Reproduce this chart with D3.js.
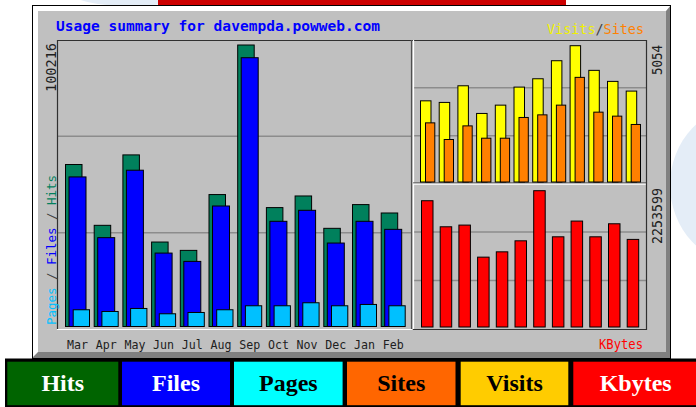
<!DOCTYPE html>
<html>
<head>
<meta charset="utf-8">
<script src="https://cdn.jsdelivr.net/npm/d3@7"></script>
<style>
html,body{margin:0;padding:0;background:#fff;overflow:hidden;}
svg{display:block;}
.mono{font-family:"DejaVu Sans Mono",monospace;}
</style>
</head>
<body>
<svg id="chart" width="696" height="407"></svg>
<script>
// ---- data ----
const months = ["Mar","Apr","May","Jun","Jul","Aug","Sep","Oct","Nov","Dec","Jan","Feb"];
const hits   = [57670, 36020, 61090, 30070, 27100, 46970, 100216, 42330, 46470, 34950, 43400, 40410];
const files  = [53250, 31630, 55640, 26140, 23180, 42900, 95690, 37450, 41370, 29710, 37450, 34590];
const pages  = [5960, 5350, 6420, 4530, 4990, 5960, 7380, 7380, 8450, 7380, 7850, 7380];
const visits = [3010, 2951, 3568, 2542, 2850, 3519, 3828, 4497, 5054, 4140, 3731, 3371];
const sites  = [2193, 1576, 2081, 1624, 1624, 2393, 2490, 2850, 3880, 2590, 2442, 2133];
const kbytes = [2087900, 1657000, 1685000, 1155000, 1242800, 1425100, 2253599, 1491300, 1751500, 1491300, 1706800, 1448300];
const legendItems = ["Hits","Files","Pages","Sites","Visits","Kbytes"];
const titleText = "Usage summary for davempda.powweb.com";

const svg = d3.select("#chart");

// background decorations
svg.append("ellipse").attr("cx",745).attr("cy",185).attr("rx",75).attr("ry",80).attr("fill","#e4edf7");
svg.append("ellipse").attr("cx",130).attr("cy",-8).attr("rx",60).attr("ry",14).attr("fill","#e4edf7");
svg.append("rect").attr("x",158).attr("y",0).attr("width",408).attr("height",5).attr("fill","#cc0000");

// outer frame with bevel
const F = {x0:32, y0:5, x1:671, y1:358};
svg.append("rect").attr("x",F.x0).attr("y",F.y0).attr("width",F.x1-F.x0).attr("height",F.y1-F.y0).attr("fill","#808080");
svg.append("path").attr("d",`M${F.x0},${F.y0}H${F.x1}L${F.x1-5},${F.y0+6}H${F.x0+6}V${F.y1-6}L${F.x0},${F.y1}Z`).attr("fill","#ffffff");
svg.append("rect").attr("x",F.x0+6).attr("y",F.y0+6).attr("width",F.x1-F.x0-11).attr("height",F.y1-F.y0-12).attr("fill","#c0c0c0");
svg.append("rect").attr("x",F.x0+0.5).attr("y",F.y0+0.5).attr("width",F.x1-F.x0-1).attr("height",F.y1-F.y0).attr("fill","none").attr("stroke","#000");

// panels
const P = {x0:57, x1:412, xr0:413, xr1:646, y0:40, y1:329, ym:183.5};

// scales
const xMain = d3.scaleBand().domain(months).range([65, 65+12*28.7]).padding(0);
const yMain = d3.scaleLinear().domain([0, d3.max(hits)]).range([326.5, 45]);
const xR = d3.scaleBand().domain(months).range([420, 420+12*18.7]).padding(0);
const yVS = d3.scaleLinear().domain([0, d3.max(visits)]).range([182, 45.7]);
const yKB = d3.scaleLinear().domain([0, d3.max(kbytes)]).range([327, 190.7]);

// gridlines
const grid = svg.append("g").attr("stroke","#8c8c8c").attr("stroke-width",1.5);
[1,2].forEach(k=>{
  const y = P.y0 + (P.y1-P.y0)*k/3;
  grid.append("line").attr("x1",P.x0).attr("x2",P.x1).attr("y1",y).attr("y2",y);
  const y2 = P.y0 + (P.ym-P.y0)*k/3;
  grid.append("line").attr("x1",P.xr0).attr("x2",P.xr1).attr("y1",y2).attr("y2",y2);
  const y3 = P.ym + (P.y1-P.ym)*k/3;
  grid.append("line").attr("x1",P.xr0).attr("x2",P.xr1).attr("y1",y3).attr("y2",y3);
});

// panel borders
const b = svg.append("g").attr("stroke-width",1.2);
b.append("line").attr("x1",P.x0).attr("x2",P.xr1).attr("y1",P.y0+0.5).attr("y2",P.y0+0.5).attr("stroke","#303030");
b.append("line").attr("x1",P.x0+0.5).attr("x2",P.x0+0.5).attr("y1",P.y0).attr("y2",P.y1).attr("stroke","#303030");
b.append("line").attr("x1",P.x0).attr("x2",P.x1).attr("y1",P.y1+0.5).attr("y2",P.y1+0.5).attr("stroke","#ffffff");
b.append("line").attr("x1",P.x1-0.5).attr("x2",P.x1-0.5).attr("y1",P.y0).attr("y2",P.y1).attr("stroke","#505050");
b.append("line").attr("x1",P.xr0+0.5).attr("x2",P.xr0+0.5).attr("y1",P.y0).attr("y2",P.y1+1).attr("stroke","#ffffff");
b.append("line").attr("x1",P.xr0).attr("x2",P.xr1).attr("y1",P.ym-0.5).attr("y2",P.ym-0.5).attr("stroke","#303030");
b.append("line").attr("x1",P.xr0).attr("x2",P.xr1).attr("y1",P.ym+0.7).attr("y2",P.ym+0.7).attr("stroke","#ffffff");
b.append("line").attr("x1",P.xr0).attr("x2",P.xr1).attr("y1",P.y1+0.5).attr("y2",P.y1+0.5).attr("stroke","#303030");
b.append("line").attr("x1",P.xr1+0.5).attr("x2",P.xr1+0.5).attr("y1",P.y0).attr("y2",P.y1+1).attr("stroke","#303030");

// bars helper
function bars(data, xs, ys, off, w, fill){
  svg.append("g").selectAll("rect").data(data).join("rect")
    .attr("x",(d,i)=>xs(months[i])+off+0.5)
    .attr("y",d=>ys(d))
    .attr("width",w)
    .attr("height",d=>ys(0)-ys(d))
    .attr("fill",fill).attr("stroke","#000").attr("stroke-width",1);
}
bars(hits,  xMain, yMain, 0,   16.5, "#00805c");
bars(files, xMain, yMain, 3.5, 17,   "#0000ff");
bars(pages, xMain, yMain, 7.7, 16.3, "#00c0ff");
bars(visits, xR, yVS, 0, 10.5, "#ffff00");
bars(sites,  xR, yVS, 5, 9.3, "#ff8000");
bars(kbytes, xR, yKB, 1, 11.5, "#ff0000");

// month labels
svg.append("g").selectAll("text").data(months).join("text")
  .attr("class","mono")
  .attr("x",d=>xMain(d)+12.5).attr("y",348.5)
  .attr("text-anchor","middle").attr("font-size",13).attr("fill","#202020")
  .attr("textLength",21).attr("lengthAdjust","spacingAndGlyphs")
  .text(d=>d);

// title
svg.append("text").attr("class","mono").attr("x",56).attr("y",31)
  .attr("font-size",14.5).attr("font-weight","bold").attr("fill","#0000ff")
  .attr("textLength",324).attr("lengthAdjust","spacingAndGlyphs")
  .text(titleText);

// rotated labels
function vlabel(x, yStart, len, size, parts){
  const t = svg.append("text").attr("class","mono")
    .attr("transform",`translate(${x},${yStart}) rotate(-90)`)
    .attr("font-size",size).attr("textLength",len).attr("lengthAdjust","spacingAndGlyphs");
  parts.forEach(p=>t.append("tspan").attr("fill",p[1]).text(p[0]));
}
vlabel(56, 92, 49, 13.5, [[String(d3.max(hits)),"#202020"]]);
vlabel(56, 325, 150, 13, [["Pages","#00c0ff"],[" / ","#404040"],["Files","#0000ff"],[" / ","#404040"],["Hits","#00805c"]]);
vlabel(661.5, 75, 30, 13.5, [[String(d3.max(visits)),"#202020"]]);
vlabel(661.5, 244, 56, 13.5, [[String(d3.max(kbytes)),"#202020"]]);

// right top label
const vs = svg.append("text").attr("class","mono").attr("x",547).attr("y",33.5)
  .attr("font-size",13.5).attr("textLength",97).attr("lengthAdjust","spacingAndGlyphs");
vs.append("tspan").attr("fill","#f0f000").text("Visits");
vs.append("tspan").attr("fill","#404040").text("/");
vs.append("tspan").attr("fill","#ff8000").text("Sites");
svg.append("text").attr("class","mono").attr("x",599).attr("y",348.5)
  .attr("font-size",13.5).attr("fill","#ff0000").attr("textLength",44).attr("lengthAdjust","spacingAndGlyphs")
  .text("KBytes");

// legend
const legFill = ["#006400","#0000ff","#00ffff","#ff6600","#ffcc00","#ff0000"];
const legText = ["#ffffff","#ffffff","#000000","#000000","#000000","#ffffff"];
const legX = [7.3, 122, 234, 347, 460.7, 573.3];
const legX1 = [118.3, 230, 342.6, 455.5, 568.3, 699];
svg.append("rect").attr("x",5).attr("y",358.5).attr("width",700).attr("height",50).attr("fill","#000");
const lg = svg.append("g").selectAll("g").data(legendItems).join("g");
lg.append("rect").attr("x",(d,i)=>legX[i]).attr("y",361.7).attr("width",(d,i)=>legX1[i]-legX[i]).attr("height",43.5)
  .attr("fill",(d,i)=>legFill[i]);
lg.append("text").attr("x",(d,i)=>(legX[i]+Math.min(legX1[i],698))/2).attr("y",390.5)
  .attr("text-anchor","middle").attr("font-family","Liberation Serif, serif").attr("font-weight","bold")
  .attr("font-size",24).attr("fill",(d,i)=>legText[i]).text(d=>d);
</script>
</body>
</html>
